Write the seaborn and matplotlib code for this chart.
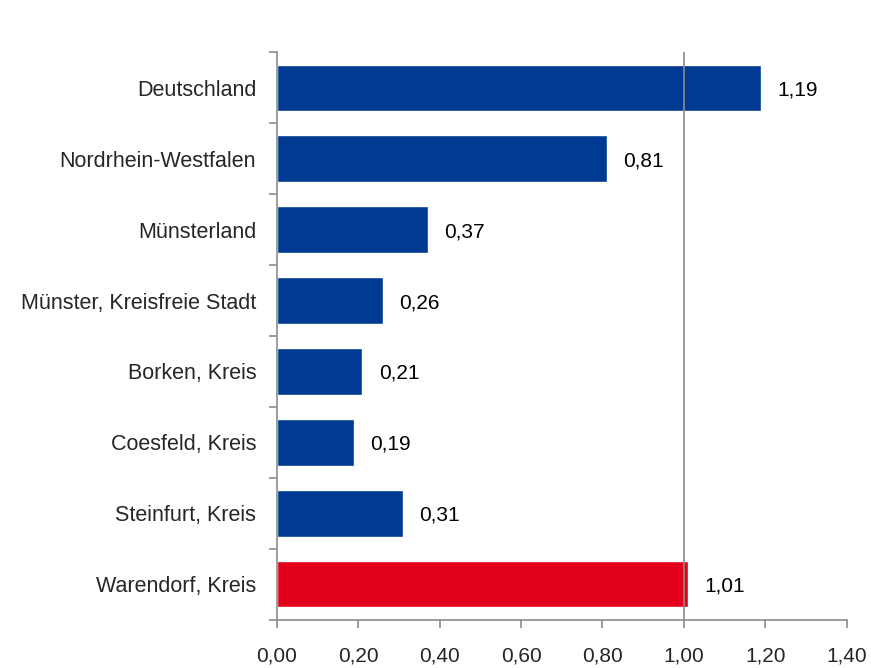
import pandas as pd
import matplotlib.pyplot as plt
import seaborn as sns
from matplotlib.ticker import FuncFormatter, FixedLocator

# Data
regions = ["Deutschland", "Nordrhein-Westfalen", "Münsterland",
           "Münster, Kreisfreie Stadt", "Borken, Kreis", "Coesfeld, Kreis",
           "Steinfurt, Kreis", "Warendorf, Kreis"]
values = [1.19, 0.81, 0.37, 0.26, 0.21, 0.19, 0.31, 1.01]
groups = ["other"] * 7 + ["focus"]
palette = {"other": "#003A93", "focus": "#E2001A"}

df = pd.DataFrame({"Region": regions, "Wert": values, "Gruppe": groups})

sns.set_style("white")
plt.rcParams["font.family"] = ["Liberation Sans", "DejaVu Sans"]

fig = plt.figure(figsize=(8.71, 6.68), dpi=100)
ax = fig.add_axes([0.318, 0.072, 0.654, 0.850])

sns.barplot(data=df, x="Wert", y="Region", hue="Gruppe", palette=palette,
            orient="h", width=0.65, dodge=False, legend=False, ax=ax,
            saturation=1)

# value labels
for i, v in enumerate(values):
    ax.text(v + 0.04, i, f"{v:.2f}".replace(".", ","), va="center_baseline",
            ha="left", fontsize=15, color="black")

ax.axvline(1.0, color="#8c8c8c", lw=1.2, zorder=5)

ax.set_xlim(0, 1.4)
ax.set_ylim(len(regions) - 0.5, -0.5)
ax.set_xticks([0, 0.2, 0.4, 0.6, 0.8, 1.0, 1.2, 1.4])
ax.xaxis.set_major_formatter(FuncFormatter(lambda x, p: f"{x:.2f}".replace(".", ",")))
ax.yaxis.set_minor_locator(FixedLocator([i - 0.5 for i in range(len(regions) + 1)]))

ax.set_xlabel("")
ax.set_ylabel("")
for s in ["top", "right"]:
    ax.spines[s].set_visible(False)
for s in ["left", "bottom"]:
    ax.spines[s].set_color("#8c8c8c")
    ax.spines[s].set_linewidth(1.2)

ax.tick_params(axis="y", which="major", left=True, length=0, pad=15, labelsize=15.5)
ax.tick_params(axis="y", which="minor", left=True, length=6, width=1.2,
               color="#8c8c8c", direction="out")
ax.tick_params(axis="x", which="major", bottom=True, length=6, width=1.2,
               color="#8c8c8c", direction="out", pad=13, labelsize=15)

fig.savefig("out.png", dpi=100)
